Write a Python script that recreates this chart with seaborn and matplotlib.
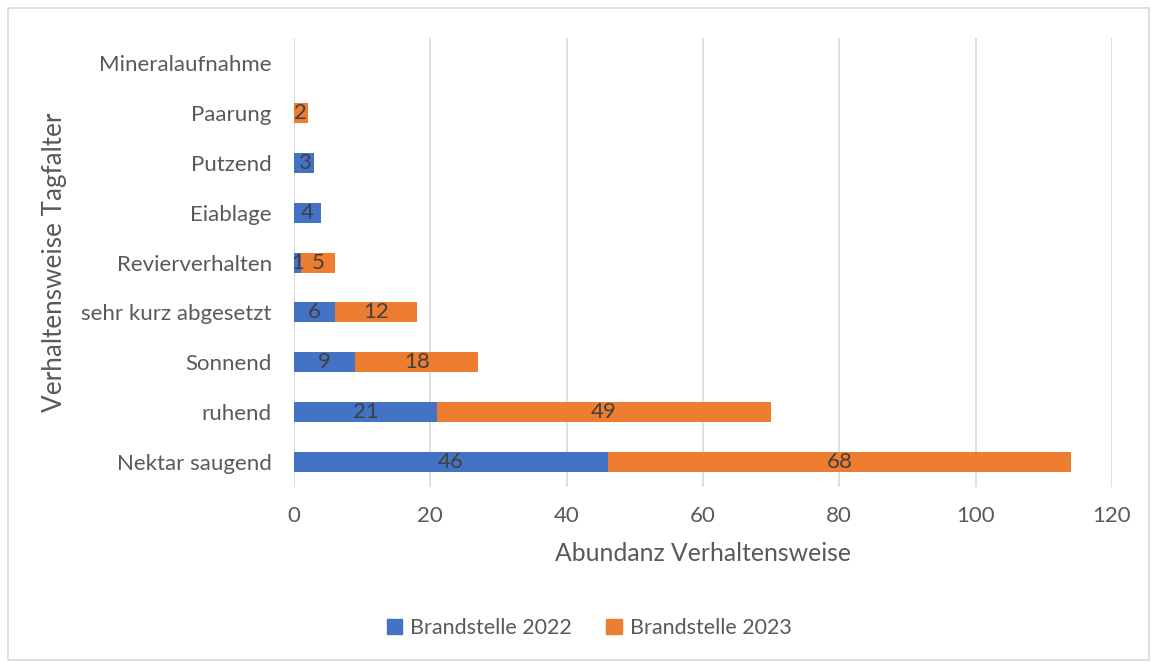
import matplotlib
matplotlib.use("Agg")
import matplotlib.pyplot as plt
import seaborn as sns
import pandas as pd
from matplotlib.patches import Rectangle

categories = ["Mineralaufnahme", "Paarung", "Putzend", "Eiablage", "Revierverhalten",
              "sehr kurz abgesetzt", "Sonnend", "ruhend", "Nektar saugend"]
values_2022 = [0, 0, 3, 4, 1, 6, 9, 21, 46]
values_2023 = [0, 2, 0, 0, 5, 12, 18, 49, 68]
series_names = ["Brandstelle 2022", "Brandstelle 2023"]
x_ticks = [0, 20, 40, 60, 80, 100, 120]

blue = "#4472C4"
orange = "#ED7D31"
gray = "#595959"

sns.set_theme(style="white")
plt.rcParams['font.family'] = ['Lato', 'DejaVu Sans']

df = pd.DataFrame({"cat": categories, "v22": values_2022, "v23": values_2023})
df["total"] = df["v22"] + df["v23"]

fig = plt.figure(figsize=(11.51, 6.62), dpi=100)
ax = fig.add_axes([0.2554, 0.2644, 0.7107, 0.678])

sns.barplot(data=df, y="cat", x="total", orient="h", color=orange, width=0.4,
            saturation=1, ax=ax, order=categories, zorder=3, linewidth=0)
sns.barplot(data=df, y="cat", x="v22", orient="h", color=blue, width=0.4,
            saturation=1, ax=ax, order=categories, zorder=3, linewidth=0)

for i, (a, b) in enumerate(zip(values_2022, values_2023)):
    if a > 0:
        ax.text(a / 2, i, str(a), ha="center", va="center", fontsize=16, color="#404040", zorder=5)
    if b > 0:
        ax.text(a + b / 2, i, str(b), ha="center", va="center", fontsize=16, color="#404040", zorder=5)

ax.set_xlim(0, 120)
ax.set_ylim(8.5, -0.5)
ax.set_xticks(x_ticks)
ax.set_xticklabels([str(t) for t in x_ticks], fontsize=16, color=gray)
ax.tick_params(axis="y", labelsize=16, labelcolor=gray, length=0, pad=16)
ax.tick_params(axis="x", length=0, pad=14)
ax.xaxis.grid(True, color="#D9D9D9", linewidth=1.2, zorder=0)
ax.set_axisbelow(True)
for s in ax.spines.values():
    s.set_visible(False)
ax.axvline(0, color="#D9D9D9", linewidth=1.2, zorder=1)

ax.set_xlabel("Abundanz Verhaltensweise", fontsize=17.8, color=gray, labelpad=11)
ax.set_ylabel("Verhaltensweise Tagfalter", fontsize=18.8, color=gray, labelpad=10)

handles = [Rectangle((0, 0), 1, 1, color=blue), Rectangle((0, 0), 1, 1, color=orange)]
fig.legend(handles, series_names, loc="center", bbox_to_anchor=(0.512, 0.052), ncol=2,
           frameon=False, fontsize=15.5, labelcolor=gray, handlelength=0.7, handleheight=0.7,
           handletextpad=0.4, columnspacing=1.6)

border = Rectangle((8 / 1151, 0.003), 1 - 8 / 1151 - 0.002, 1 - 8 / 662 - 0.003,
                   transform=fig.transFigure, fill=False, edgecolor="#D9D9D9", linewidth=1.2)
fig.patches.append(border)

fig.savefig("out.png", dpi=100, facecolor="white")
